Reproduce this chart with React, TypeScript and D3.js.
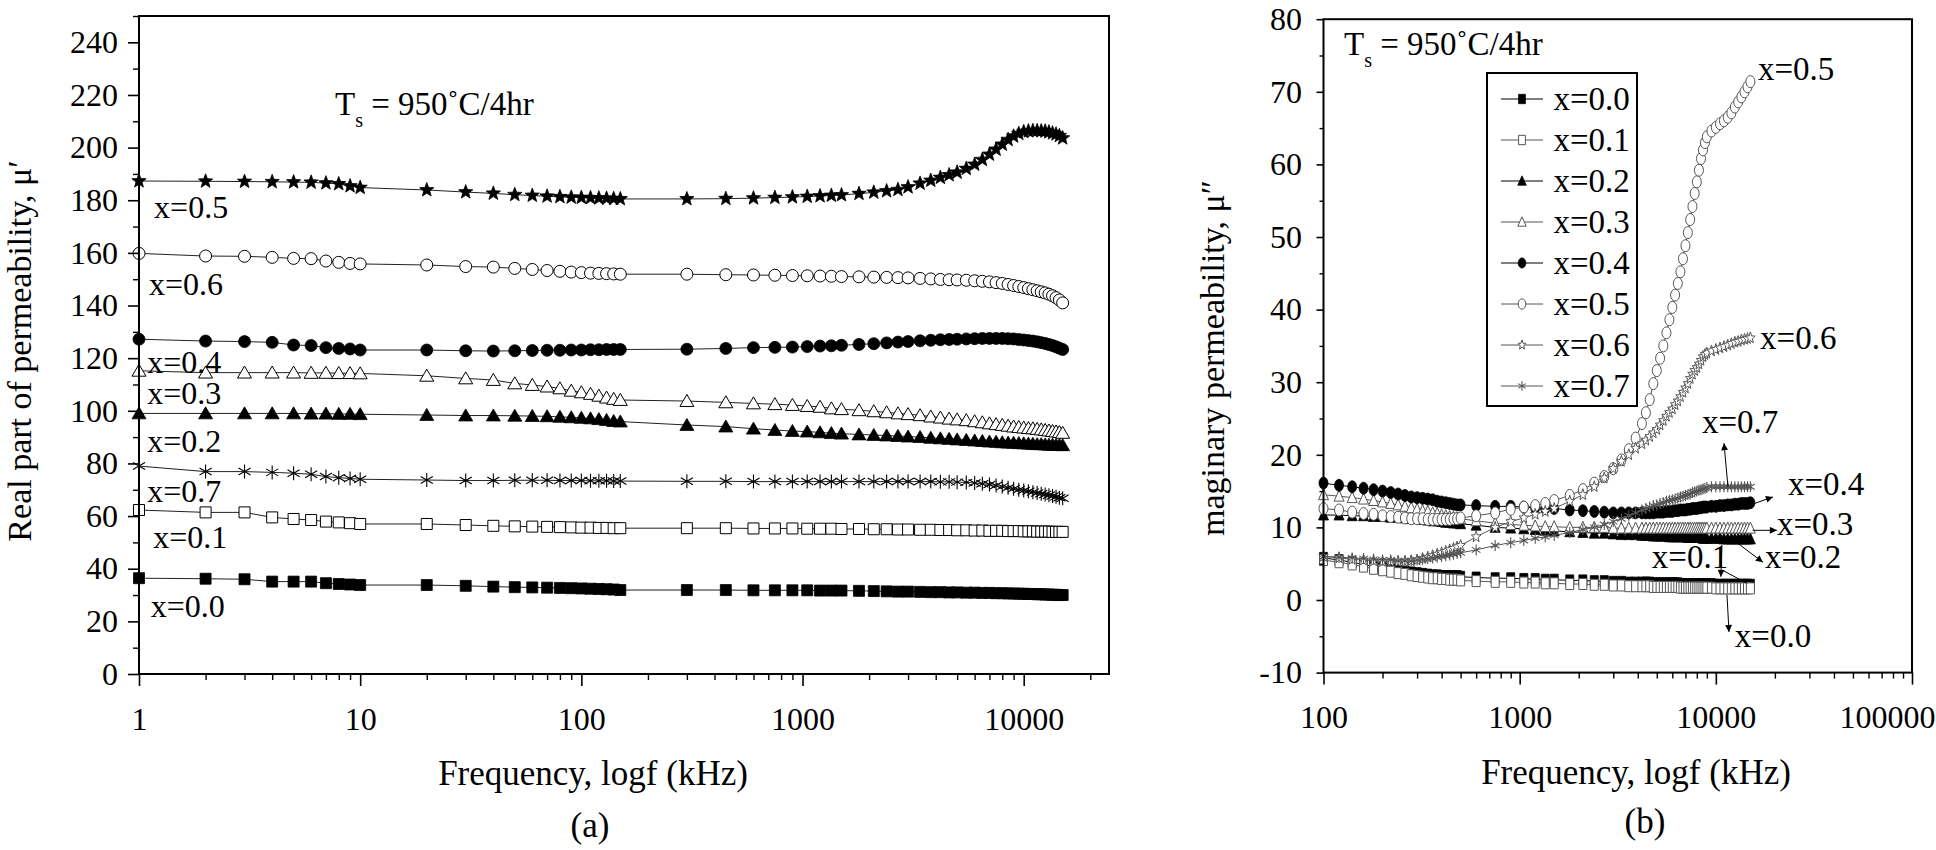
import { useEffect, useRef } from 'react';
import * as d3 from 'd3';

// ---------- data ----------
// (a) real part, frequency in kHz
const FREQ_A = [
  1, 2, 3, 4, 5, 6, 7, 8, 9, 10,
  20, 30, 40, 50, 60, 70, 80, 90, 100, 110, 120, 130, 140, 150,
  300, 450, 600, 750, 900, 1050, 1200, 1350, 1500,
  1800, 2100, 2400, 2700, 3000, 3400, 3800, 4200, 4600, 5000,
  5500, 6000, 6500, 7000, 7500, 8000, 8500, 9000, 9500, 10000,
  10500, 11000, 11500, 12000, 12500, 13000, 13500, 14000, 14500, 15000,
];

const REAL_X00 = [
  36.4, 36.2, 36.0, 35.1, 35.1, 35.1, 34.5, 34.2, 34.0, 33.8,
  33.8, 33.5, 33.2, 33.0, 32.9, 32.8, 32.7, 32.6, 32.5, 32.4, 32.3, 32.2, 32.1, 31.9,
  31.9, 31.9, 31.8, 31.8, 31.8, 31.8, 31.7, 31.7, 31.7,
  31.6, 31.5, 31.4, 31.3, 31.3, 31.2, 31.1, 31.1, 31.0, 31.0,
  30.9, 30.9, 30.8, 30.8, 30.7, 30.7, 30.6, 30.6, 30.5, 30.5,
  30.4, 30.4, 30.3, 30.3, 30.2, 30.2, 30.1, 30.1, 30.0, 30.0,
];
const REAL_X01 = [
  62.3, 61.4, 61.4, 59.5, 58.9, 58.5, 57.9, 57.6, 57.3, 57.0,
  57.0, 56.6, 56.3, 56.1, 56.0, 55.9, 55.8, 55.7, 55.6, 55.6, 55.5, 55.5, 55.4, 55.4,
  55.4, 55.4, 55.3, 55.3, 55.3, 55.2, 55.2, 55.2, 55.1,
  55.1, 55.0, 55.0, 54.9, 54.9, 54.8, 54.8, 54.7, 54.7, 54.6,
  54.6, 54.5, 54.5, 54.4, 54.4, 54.4, 54.3, 54.3, 54.3, 54.2,
  54.2, 54.2, 54.1, 54.1, 54.1, 54.1, 54.0, 54.0, 54.0, 54.0,
];
const REAL_X02 = [
  99.0, 99.0, 99.0, 99.0, 99.0, 98.9, 98.9, 98.8, 98.8, 98.7,
  98.4, 98.2, 98.2, 98.1, 98.0, 97.9, 97.7, 97.5, 97.3, 97.1, 96.8, 96.5, 96.1, 95.9,
  94.6, 94.0, 93.2, 92.7, 92.3, 92.1, 91.8, 91.5, 91.3,
  91.0, 90.8, 90.6, 90.4, 90.2, 90.0, 89.7, 89.5, 89.3, 89.1,
  88.9, 88.7, 88.5, 88.3, 88.2, 88.0, 87.9, 87.8, 87.7, 87.6,
  87.5, 87.4, 87.3, 87.3, 87.2, 87.1, 87.1, 87.0, 87.0, 86.9,
];
const REAL_X03 = [
  115.2, 114.5, 114.5, 114.5, 114.5, 114.4, 114.4, 114.3, 114.3, 114.2,
  113.3, 112.3, 111.7, 110.4, 109.8, 109.2, 108.5, 107.6, 107.0, 106.4, 105.7, 105.0, 104.5, 104.1,
  103.7, 103.2, 102.8, 102.5, 102.2, 101.8, 101.5, 100.9, 100.6,
  100.2, 99.8, 99.4, 99.0, 98.7, 98.3, 97.8, 97.4, 97.0, 96.7,
  96.4, 96.0, 95.6, 95.2, 94.9, 94.6, 94.3, 94.0, 93.8, 93.6,
  93.4, 93.3, 93.1, 92.9, 92.7, 92.5, 92.3, 92.1, 91.9, 91.6,
];
const REAL_X04 = [
  127.2, 126.5, 126.3, 126.0, 125.0, 124.8, 124.0, 123.7, 123.5, 123.1,
  123.1, 122.8, 122.7, 122.8, 122.9, 123.0, 123.0, 123.1, 123.1, 123.2, 123.2, 123.3, 123.3, 123.3,
  123.4, 123.7, 124.0, 124.1, 124.2, 124.4, 124.6, 124.7, 124.9,
  125.2, 125.5, 125.8, 126.1, 126.3, 126.6, 126.8, 127.0, 127.1, 127.2,
  127.3, 127.4, 127.5, 127.5, 127.5, 127.5, 127.4, 127.3, 127.1, 126.9,
  126.7, 126.5, 126.2, 125.9, 125.6, 125.2, 124.8, 124.3, 123.8, 123.3,
];
const REAL_X05 = [
  187.3, 187.2, 187.1, 187.0, 186.9, 186.8, 186.5, 186.2, 185.4, 184.8,
  183.9, 183.1, 182.6, 182.1, 181.8, 181.5, 181.3, 181.1, 181.0, 180.9, 180.8, 180.7, 180.6, 180.5,
  180.5, 180.6, 180.8, 181.0, 181.2, 181.4, 181.6, 181.8, 182.0,
  182.5, 183.0, 183.5, 184.0, 185.0, 186.4, 187.5, 188.6, 189.6, 190.6,
  192.0, 193.6, 195.4, 197.4, 199.3, 201.2, 203.0, 204.3, 205.3, 206.0,
  206.3, 206.4, 206.4, 206.3, 206.2, 205.9, 205.5, 205.1, 204.5, 203.6,
];
const REAL_X06 = [
  159.8, 158.8, 158.7, 158.3, 157.9, 157.8, 156.9, 156.4, 156.0, 155.8,
  155.4, 154.8, 154.6, 154.1, 153.7, 153.3, 153.0, 152.7, 152.5, 152.3, 152.2, 152.1, 152.0, 151.9,
  151.9, 151.7, 151.6, 151.5, 151.4, 151.3, 151.2, 151.1, 151.0,
  150.9, 150.8, 150.7, 150.6, 150.5, 150.3, 150.1, 149.9, 149.8, 149.7,
  149.6, 149.4, 149.2, 149.0, 148.7, 148.4, 148.0, 147.6, 147.2, 146.8,
  146.4, 146.0, 145.6, 145.2, 144.8, 144.3, 143.7, 143.0, 142.1, 141.0,
];
const REAL_X07 = [
  79.0, 76.9, 76.9, 76.6, 76.3, 75.9, 75.0, 74.6, 74.3, 74.0,
  73.7, 73.5, 73.5, 73.6, 73.6, 73.6, 73.5, 73.5, 73.5, 73.4, 73.4, 73.4, 73.3, 73.3,
  73.2, 73.2, 73.1, 73.1, 73.1, 73.1, 73.1, 73.1, 73.1,
  73.1, 73.1, 73.1, 73.1, 73.1, 73.1, 73.1, 73.0, 73.0, 72.9,
  72.8, 72.6, 72.3, 72.0, 71.6, 71.2, 70.8, 70.4, 70.0, 69.7,
  69.4, 69.1, 68.8, 68.5, 68.2, 67.9, 67.6, 67.3, 67.0, 66.8,
];

// (b) imaginary part, frequency in kHz
const FREQ_B = [
  100, 120, 140, 160, 180, 200, 220, 240, 260, 280,
  300, 320, 340, 360, 380, 400, 420, 440, 460, 480,
  500, 600, 750, 900, 1050, 1200, 1350, 1500,
  1800, 2100, 2400, 2700, 3000, 3300, 3600, 3900,
  4200, 4400, 4600, 4800, 5000, 5200, 5400, 5600, 5800, 6000, 6200, 6400, 6600,
  6800, 7000, 7200, 7400, 7600, 7800, 8000, 8200, 8400, 8600, 8800, 9000,
  9500, 10000, 10500, 11000, 11500, 12000, 12500, 13000, 13500, 14000, 14500, 15000,
];

const IMAG_X00 = [
  5.8, 5.5, 5.2, 4.9, 4.6, 4.4, 4.2, 4.0, 3.9, 3.8,
  3.7, 3.6, 3.5, 3.4, 3.4, 3.3, 3.3, 3.3, 3.3, 3.3,
  3.2, 3.1, 3.0, 3.0, 2.9, 2.9, 2.8, 2.8,
  2.7, 2.7, 2.6, 2.6, 2.5, 2.5, 2.4, 2.4,
  2.4, 2.4, 2.4, 2.3, 2.3, 2.3, 2.3, 2.3, 2.3, 2.3, 2.3, 2.3, 2.2,
  2.2, 2.2, 2.2, 2.2, 2.2, 2.2, 2.2, 2.2, 2.2, 2.2, 2.2, 2.2,
  2.2, 2.1, 2.1, 2.1, 2.1, 2.1, 2.1, 2.1, 2.1, 2.1, 2.1, 2.1,
];
const IMAG_X01 = [
  5.5, 5.2, 4.9, 4.6, 4.3, 4.1, 3.9, 3.7, 3.6, 3.4,
  3.3, 3.2, 3.1, 3.0, 3.0, 2.9, 2.9, 2.8, 2.8, 2.8,
  2.7, 2.6, 2.5, 2.5, 2.4, 2.4, 2.3, 2.3,
  2.2, 2.2, 2.1, 2.1, 2.0, 2.0, 1.9, 1.9,
  1.9, 1.9, 1.9, 1.8, 1.8, 1.8, 1.8, 1.8, 1.8, 1.8, 1.8, 1.8, 1.7,
  1.7, 1.7, 1.7, 1.7, 1.7, 1.7, 1.7, 1.7, 1.7, 1.7, 1.7, 1.7,
  1.7, 1.6, 1.6, 1.6, 1.6, 1.6, 1.6, 1.6, 1.6, 1.6, 1.6, 1.6,
];
const IMAG_X02 = [
  11.7, 11.7, 11.6, 11.6, 11.5, 11.5, 11.4, 11.4, 11.3, 11.2,
  11.2, 11.1, 11.0, 10.9, 10.9, 10.8, 10.7, 10.7, 10.6, 10.6,
  10.5, 10.3, 10.0, 9.9, 9.8, 9.7, 9.6, 9.5,
  9.4, 9.3, 9.2, 9.2, 9.1, 9.0, 9.0, 9.0,
  8.9, 8.9, 8.9, 8.8, 8.8, 8.8, 8.8, 8.8, 8.7, 8.7, 8.7, 8.7, 8.7,
  8.7, 8.7, 8.6, 8.6, 8.6, 8.6, 8.6, 8.6, 8.6, 8.5, 8.5, 8.5,
  8.5, 8.5, 8.5, 8.4, 8.4, 8.4, 8.4, 8.4, 8.4, 8.4, 8.4, 8.4,
];
const IMAG_X03 = [
  14.5, 14.3, 14.1, 13.9, 13.7, 13.5, 13.3, 13.1, 12.9, 12.7,
  12.5, 12.3, 12.2, 12.0, 11.9, 11.7, 11.6, 11.5, 11.4, 11.3,
  11.2, 10.9, 10.6, 10.4, 10.3, 10.2, 10.1, 10.1,
  10.0, 10.0, 10.0, 10.0, 9.9, 9.9, 9.9, 9.9,
  9.9, 9.9, 9.9, 9.9, 9.9, 9.9, 9.9, 9.9, 9.9, 9.9, 9.9, 9.9, 9.9,
  9.9, 9.9, 9.9, 9.9, 9.9, 9.9, 9.9, 9.9, 9.9, 9.9, 9.9, 9.9,
  9.9, 9.9, 9.9, 9.9, 9.9, 9.9, 9.9, 9.9, 9.9, 9.9, 9.9, 9.9,
];
const IMAG_X04 = [
  16.1, 15.8, 15.6, 15.4, 15.2, 15.0, 14.8, 14.6, 14.4, 14.2,
  14.1, 14.0, 13.9, 13.8, 13.6, 13.5, 13.4, 13.3, 13.2, 13.1,
  13.1, 13.0, 12.9, 12.9, 12.8, 12.7, 12.6, 12.6,
  12.4, 12.3, 12.2, 12.1, 12.0, 12.0, 12.0, 12.0,
  12.0, 12.0, 12.0, 12.0, 12.1, 12.1, 12.1, 12.2, 12.2, 12.2, 12.3, 12.3, 12.4,
  12.4, 12.4, 12.5, 12.5, 12.6, 12.6, 12.6, 12.7, 12.7, 12.8, 12.8, 12.8,
  12.9, 12.9, 13.0, 13.0, 13.1, 13.1, 13.2, 13.2, 13.3, 13.3, 13.3, 13.4,
];
const IMAG_X05 = [
  12.6, 12.4, 12.1, 11.9, 11.8, 11.6, 11.5, 11.4, 11.3, 11.2,
  11.2, 11.2, 11.1, 11.1, 11.1, 11.1, 11.1, 11.1, 11.2, 11.2,
  11.3, 11.6, 12.0, 12.5, 12.8, 13.0, 13.3, 13.7,
  14.4, 15.2, 16.1, 17.0, 18.1, 19.3, 20.7, 22.3,
  24.3, 25.8, 27.6, 29.8, 31.6, 33.3, 35.0, 36.8, 38.6, 40.3, 42.0, 43.6, 45.2,
  47.0, 48.8, 50.6, 52.4, 54.2, 56.0, 57.6, 59.2, 60.8, 62.0, 63.0, 63.8,
  64.6, 65.1, 65.6, 66.0, 66.5, 67.1, 67.9, 68.6, 69.3, 70.0, 70.7, 71.4,
];
const IMAG_X06 = [
  6.0, 5.8, 5.6, 5.5, 5.4, 5.3, 5.3, 5.3, 5.3, 5.4,
  5.5, 5.7, 5.9, 6.1, 6.3, 6.5, 6.7, 6.9, 7.1, 7.3,
  7.5, 8.7, 10.0, 10.8, 11.3, 11.8, 12.2, 12.6,
  13.6, 14.5, 15.6, 16.8, 18.1, 19.1, 20.0, 20.9,
  21.5, 22.0, 22.5, 23.0, 23.5, 24.1, 24.7, 25.3, 25.8, 26.3, 26.9, 27.4, 28.0,
  28.6, 29.2, 29.8, 30.5, 31.1, 31.6, 32.0, 32.5, 33.0, 33.5, 33.8, 34.0,
  34.3, 34.5, 34.7, 34.9, 35.1, 35.3, 35.5, 35.6, 35.8, 35.9, 36.0, 36.1,
];
const IMAG_X07 = [
  6.0, 5.9, 5.8, 5.7, 5.6, 5.5, 5.5, 5.4, 5.4, 5.4,
  5.5, 5.6, 5.7, 5.8, 5.9, 6.0, 6.1, 6.2, 6.3, 6.4,
  6.5, 6.9, 7.5, 7.9, 8.2, 8.5, 8.7, 8.9,
  9.3, 9.7, 10.0, 10.4, 10.8, 11.2, 11.6, 12.0,
  12.4, 12.6, 12.8, 13.0, 13.1, 13.3, 13.4, 13.6, 13.7, 13.8, 13.9, 14.0, 14.2,
  14.3, 14.4, 14.5, 14.6, 14.8, 14.9, 15.0, 15.1, 15.2, 15.3, 15.4, 15.5,
  15.6, 15.6, 15.6, 15.6, 15.6, 15.6, 15.6, 15.6, 15.6, 15.6, 15.6, 15.6,
];

const SERIES_LABELS = ['x=0.0', 'x=0.1', 'x=0.2', 'x=0.3', 'x=0.4', 'x=0.5', 'x=0.6', 'x=0.7'];

// tick values
const TICKS_A_X = [1, 10, 100, 1000, 10000];
const TICKS_A_Y = [0, 20, 40, 60, 80, 100, 120, 140, 160, 180, 200, 220, 240];
const TICKS_B_X = [100, 1000, 10000, 100000];
const TICKS_B_Y = [-10, 0, 10, 20, 30, 40, 50, 60, 70, 80];

// in-plot labels of panel (a): [text, frequency, value at baseline]
const LABELS_A: [string, number, number][] = [
  ['x=0.5', 1.17, 173.3],
  ['x=0.6', 1.11, 144.0],
  ['x=0.4', 1.09, 114.4],
  ['x=0.3', 1.09, 102.6],
  ['x=0.2', 1.09, 84.3],
  ['x=0.7', 1.09, 65.3],
  ['x=0.1', 1.16, 47.9],
  ['x=0.0', 1.13, 21.7],
];
// in-plot labels of panel (b)
const LABELS_B: [string, number, number][] = [
  ['x=0.5', 16400, 71.6],
  ['x=0.6', 16800, 34.6],
  ['x=0.7', 8500, 23.0],
  ['x=0.4', 23300, 14.5],
  ['x=0.3', 20500, 9.0],
  ['x=0.2', 17800, 4.4],
  ['x=0.1', 4720, 4.4],
  ['x=0.0', 12500, -6.5],
];
// pointers of panel (b): [f0, v0, f1, v1, arrow head]
const POINTERS_B: [number, number, number, number, boolean][] = [
  [11530, 15.6, 11000, 21.6, true],
  [15400, 13.2, 19540, 14.2, true],
  [15400, 9.6, 20470, 9.6, true],
  [12800, 7.9, 17380, 5.2, true],
  [10740, 7.6, 10610, 3.2, true],
  [14390, 2.3, 11000, 4.0, false],
  [11400, 0.7, 11670, -4.4, true],
];

type Marker = 'square' | 'circle' | 'triangle' | 'star' | 'asterisk';
interface Style { marker: Marker; filled: boolean }

const STYLES_A: Style[] = [
  { marker: 'square', filled: true },
  { marker: 'square', filled: false },
  { marker: 'triangle', filled: true },
  { marker: 'triangle', filled: false },
  { marker: 'circle', filled: true },
  { marker: 'star', filled: true },
  { marker: 'circle', filled: false },
  { marker: 'asterisk', filled: false },
];
const STYLES_B: Style[] = [
  { marker: 'square', filled: true },
  { marker: 'square', filled: false },
  { marker: 'triangle', filled: true },
  { marker: 'triangle', filled: false },
  { marker: 'circle', filled: true },
  { marker: 'circle', filled: false },
  { marker: 'star', filled: false },
  { marker: 'asterisk', filled: false },
];

const FONT = "'Liberation Serif', 'Times New Roman', Times, serif";

function markerPath(kind: Marker, w: number, h: number): string {
  const a = w / 2;
  const b = h / 2;
  switch (kind) {
    case 'square':
      return `M${-a},${-b}H${a}V${b}H${-a}Z`;
    case 'circle':
      return `M${-a},0A${a},${b} 0 1,0 ${a},0A${a},${b} 0 1,0 ${-a},0Z`;
    case 'triangle':
      return `M0,${-b * 1.1}L${a},${b * 0.9}L${-a},${b * 0.9}Z`;
    case 'star': {
      const pts: string[] = [];
      for (let k = 0; k < 10; k++) {
        const ang = -Math.PI / 2 + (k * Math.PI) / 5;
        const r = k % 2 === 0 ? 1 : 0.42;
        pts.push(`${(a * r * Math.cos(ang)).toFixed(2)},${(b * r * Math.sin(ang)).toFixed(2)}`);
      }
      return 'M' + pts.join('L') + 'Z';
    }
    case 'asterisk': {
      let s = '';
      for (let k = 0; k < 3; k++) {
        const ang = Math.PI / 2 + (k * Math.PI) / 3;
        const dx = a * Math.cos(ang);
        const dy = b * Math.sin(ang);
        s += `M${(-dx).toFixed(2)},${(-dy).toFixed(2)}L${dx.toFixed(2)},${dy.toFixed(2)}`;
      }
      return s;
    }
  }
}

const SIZE_A: Record<Marker, [number, number]> = {
  square: [11, 11], circle: [12, 12], triangle: [14, 12], star: [15, 15], asterisk: [14, 14],
};
const SIZE_B: Record<Marker, [number, number]> = {
  square: [8, 11], circle: [9, 12], triangle: [10, 11], star: [10, 12], asterisk: [10, 11],
};

function minorLog(lo: number, hi: number): number[] {
  const out: number[] = [];
  for (let p = Math.floor(Math.log10(lo)); p <= Math.ceil(Math.log10(hi)); p++) {
    for (let m = 2; m <= 9; m++) {
      const v = m * Math.pow(10, p);
      if (v > lo && v < hi) out.push(v);
    }
  }
  return out;
}

const App: React.FC = () => {
  const svgRef = useRef<SVGSVGElement>(null);

  useEffect(() => {
    if (!svgRef.current) return;
    const svg = d3.select(svgRef.current);
    svg.selectAll('*').remove();

    const styleAxis = (g: d3.Selection<SVGGElement, unknown, null, undefined>, tw: number) => {
      g.select('.domain').remove();
      g.selectAll('line').attr('stroke', '#000').attr('stroke-width', tw);
      g.selectAll('text').attr('font-family', FONT).attr('font-size', 32).attr('fill', '#000');
    };

    const drawMarker = (
      g: d3.Selection<SVGGElement, unknown, null, undefined>,
      st: Style, size: Record<Marker, [number, number]>, x: number, y: number, stroke: string, k = 1,
    ) => {
      const [w, h] = size[st.marker];
      const p = g.append('path')
        .attr('d', markerPath(st.marker, w * k, h * k))
        .attr('transform', `translate(${x},${y})`);
      if (st.marker === 'asterisk') {
        p.attr('fill', 'none').attr('stroke', stroke).attr('stroke-width', 1.1);
      } else if (st.filled) {
        p.attr('fill', '#000').attr('stroke', '#000').attr('stroke-width', 0.8);
      } else {
        p.attr('fill', '#fff').attr('stroke', stroke).attr('stroke-width', 1);
      }
    };

    const titleText = (x: number, y: number) => {
      const t = svg.append('text')
        .attr('x', x).attr('y', y)
        .attr('font-family', FONT).attr('font-size', 33);
      t.append('tspan').text('T');
      t.append('tspan').attr('font-size', 20).attr('dy', 12).text('s');
      t.append('tspan').attr('dy', -12).text(' = 950˚C/4hr');
    };

    // ================= panel (a) =================
    const xA = d3.scaleLog().domain([1, 24300]).range([139, 1109]);
    const yA = d3.scaleLinear().domain([0, 250]).range([674, 16]);
    const gA = svg.append('g');

    const seriesA = [REAL_X00, REAL_X01, REAL_X02, REAL_X03, REAL_X04, REAL_X05, REAL_X06, REAL_X07];
    const lineA = d3.line<number>().x((_, i) => xA(FREQ_A[i])).y(d => yA(d));
    seriesA.forEach((vals, si) => {
      const g = gA.append('g');
      g.append('path').datum(vals).attr('d', lineA)
        .attr('fill', 'none').attr('stroke', '#222').attr('stroke-width', 1);
      vals.forEach((v, i) => drawMarker(g, STYLES_A[si], SIZE_A, xA(FREQ_A[i]), yA(v), '#000'));
    });

    // axes
    const axA1 = gA.append('g').attr('transform', 'translate(0,674)')
      .call(d3.axisBottom(xA).tickValues(TICKS_A_X).tickSize(12).tickPadding(21).tickFormat(d => String(d)));
    styleAxis(axA1, 1.6);
    const axA2 = gA.append('g').attr('transform', 'translate(0,674)')
      .call(d3.axisBottom(xA).tickValues(minorLog(1, 24300)).tickSize(6).tickFormat(() => ''));
    styleAxis(axA2, 1.4);
    const axA3 = gA.append('g').attr('transform', 'translate(139,0)')
      .call(d3.axisLeft(yA).tickValues(TICKS_A_Y).tickSize(11).tickPadding(10));
    styleAxis(axA3, 1.6);
    const axA4 = gA.append('g').attr('transform', 'translate(139,0)')
      .call(d3.axisLeft(yA).tickValues(TICKS_A_Y.map(t => t + 10)).tickSize(6).tickFormat(() => ''));
    styleAxis(axA4, 1.4);

    gA.append('rect').attr('x', 139).attr('y', 16).attr('width', 1109 - 139).attr('height', 674 - 16)
      .attr('fill', 'none').attr('stroke', '#000').attr('stroke-width', 2);

    LABELS_A.forEach(([t, f, v]) => {
      gA.append('text').attr('x', xA(f)).attr('y', yA(v))
        .attr('font-family', FONT).attr('font-size', 32).text(t);
    });

    titleText(335, 115);

    gA.append('text').attr('transform', 'translate(31,351) rotate(-90)')
      .attr('text-anchor', 'middle').attr('font-family', FONT).attr('font-size', 34)
      .text('Real part of permeability, μ′');
    gA.append('text').attr('x', 593).attr('y', 785).attr('text-anchor', 'middle')
      .attr('font-family', FONT).attr('font-size', 35).text('Frequency, logf (kHz)');
    gA.append('text').attr('x', 590).attr('y', 837).attr('text-anchor', 'middle')
      .attr('font-family', FONT).attr('font-size', 35).text('(a)');

    // ================= panel (b) =================
    const xB = d3.scaleLog().domain([100, 100000]).range([1323.5, 1912]);
    const yB = d3.scaleLinear().domain([-10, 80]).range([672.6, 19.2]);
    const gB = svg.append('g');

    const seriesB = [IMAG_X00, IMAG_X01, IMAG_X02, IMAG_X03, IMAG_X04, IMAG_X05, IMAG_X06, IMAG_X07];
    const lineB = d3.line<number>().x((_, i) => xB(FREQ_B[i])).y(d => yB(d));
    seriesB.forEach((vals, si) => {
      const st = STYLES_B[si];
      const col = st.filled ? '#000' : '#555';
      const g = gB.append('g');
      g.append('path').datum(vals).attr('d', lineB)
        .attr('fill', 'none').attr('stroke', col).attr('stroke-width', 1);
      vals.forEach((v, i) => drawMarker(g, st, SIZE_B, xB(FREQ_B[i]), yB(v), col));
    });

    const axB1 = gB.append('g').attr('transform', 'translate(0,672.6)')
      .call(d3.axisBottom(xB).tickValues(TICKS_B_X).tickSize(12).tickPadding(21).tickFormat(d => String(d)));
    styleAxis(axB1, 1.6);
    // the last label sits at the picture's right edge
    axB1.selectAll<SVGTextElement, number>('text')
      .filter(d => d === 100000)
      .attr('text-anchor', 'end').attr('x', 1935 - 1912);
    const axB2 = gB.append('g').attr('transform', 'translate(0,672.6)')
      .call(d3.axisBottom(xB).tickValues(minorLog(100, 100000)).tickSize(6).tickFormat(() => ''));
    styleAxis(axB2, 1.4);
    const axB3 = gB.append('g').attr('transform', 'translate(1323.5,0)')
      .call(d3.axisLeft(yB).tickValues(TICKS_B_Y).tickSize(7).tickPadding(14.5).tickFormat(d => String(d)));
    styleAxis(axB3, 1.6);
    const axB4 = gB.append('g').attr('transform', 'translate(1323.5,0)')
      .call(d3.axisLeft(yB).tickValues(TICKS_B_Y.slice(0, -1).map(t => t + 5)).tickSize(4).tickFormat(() => ''));
    styleAxis(axB4, 1.4);

    gB.append('rect').attr('x', 1323.5).attr('y', 19.2).attr('width', 1912 - 1323.5).attr('height', 672.6 - 19.2)
      .attr('fill', 'none').attr('stroke', '#000').attr('stroke-width', 2);

    // legend
    const legend = gB.append('g');
    legend.append('rect').attr('x', 1487).attr('y', 73).attr('width', 150).attr('height', 333)
      .attr('fill', '#fff').attr('stroke', '#000').attr('stroke-width', 2);
    SERIES_LABELS.forEach((lab, i) => {
      const cy = 99 + i * 41;
      const st = STYLES_B[i];
      const col = st.filled ? '#000' : '#555';
      legend.append('line').attr('x1', 1501).attr('x2', 1543).attr('y1', cy).attr('y2', cy)
        .attr('stroke', col).attr('stroke-width', 1);
      drawMarker(legend, st, SIZE_B, 1522, cy, col, 0.85);
      legend.append('text').attr('x', 1553.5).attr('y', cy + 11)
        .attr('font-family', FONT).attr('font-size', 33).text(lab);
    });

    // pointers
    const defs = svg.append('defs');
    defs.append('marker').attr('id', 'arrowhead').attr('viewBox', '0 0 10 10')
      .attr('refX', 10).attr('refY', 5).attr('markerWidth', 10).attr('markerHeight', 7)
      .attr('markerUnits', 'userSpaceOnUse').attr('orient', 'auto')
      .append('path').attr('d', 'M0,0L10,5L0,10Z').attr('fill', '#000');
    POINTERS_B.forEach(([f0, v0, f1, v1, head]) => {
      const l = gB.append('line')
        .attr('x1', xB(f0)).attr('y1', yB(v0)).attr('x2', xB(f1)).attr('y2', yB(v1))
        .attr('stroke', '#000').attr('stroke-width', 1);
      if (head) l.attr('marker-end', 'url(#arrowhead)');
    });

    LABELS_B.forEach(([t, f, v]) => {
      gB.append('text').attr('x', xB(f)).attr('y', yB(v))
        .attr('font-family', FONT).attr('font-size', 33).text(t);
    });

    titleText(1344, 55);

    gB.append('text').attr('transform', 'translate(1224,358) rotate(-90)')
      .attr('text-anchor', 'middle').attr('font-family', FONT).attr('font-size', 34)
      .text('maginary permeability, μ″');
    gB.append('text').attr('x', 1636).attr('y', 784).attr('text-anchor', 'middle')
      .attr('font-family', FONT).attr('font-size', 35).text('Frequency, logf (kHz)');
    gB.append('text').attr('x', 1645).attr('y', 833).attr('text-anchor', 'middle')
      .attr('font-family', FONT).attr('font-size', 35).text('(b)');
  }, []);

  return (
    <svg
      ref={svgRef}
      width={1936}
      height={850}
      style={{ position: 'absolute', left: 0, top: 0, background: '#fff' }}
    />
  );
};

export default App;
